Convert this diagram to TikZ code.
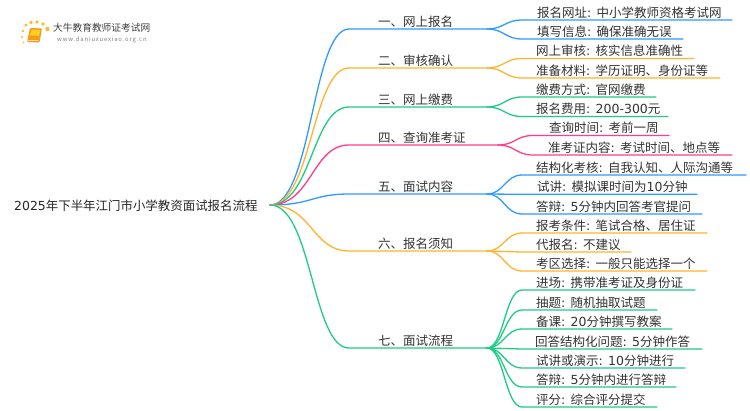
\documentclass[tikz,border=0pt]{standalone}
\usepackage{fontspec}
\setmainfont{Noto Sans CJK SC}
\newfontfamily\latfont{DejaVu Sans}
\newcommand{\lat}[1]{{\latfont #1}}
\definecolor{cblue}{HTML}{2E9BFF}
\definecolor{corange}{HTML}{FFB32E}
\definecolor{cgreen}{HTML}{1FCC85}
\definecolor{cpink}{HTML}{FF3D8B}
\definecolor{ctext}{HTML}{333333}
\definecolor{cbook}{HTML}{F59A1C}
\tikzset{
  x=1pt,y=-1pt,
  lbl/.style={anchor=base west,inner sep=0pt,font=\fontsize{12.5}{14}\selectfont,text=ctext},
  rootlbl/.style={anchor=base west,inner sep=0pt,font=\fontsize{12.45}{14}\selectfont,text=black!85},
  wire/.style={line width=1.3pt,line cap=round},
}
% branch: name, colour, y, fork x, text
\newcommand{\branch}[5]{%
  \coordinate (#1s) at (349,#3);
  \coordinate (#1e) at (#4,#3);
  \node[lbl] (#1t) at (378,#3-2.6) {#5};
  \draw[wire,#2] (rootout) .. controls ($(rootout)+(42,0)$) and ($(#1s)+(-37,0)$) .. (#1s) -- (#1e);
}
% leaf: name, parent, colour, y, start x, end x, text x, text
\newcommand{\leaf}[8]{%
  \coordinate (#1s) at (#5,#4);
  \coordinate (#1e) at (#6,#4);
  \node[lbl] (#1t) at (#7,#4-2.6) {#8};
  \draw[wire,#3] (#2e) .. controls ($(#2e)+(17,0)$) and ($(#1s)+(-17,0)$) .. (#1s) -- (#1e);
}
\usetikzlibrary{calc}
\begin{document}
\begin{tikzpicture}
\useasboundingbox (0,0) rectangle (750,410);
\fill[white] (0,0) rectangle (750,410);
% logo
\fill[corange!90!yellow] (23,31) circle (1.3) (26,25) circle (1.6) (31,22.5) circle (1.9) (37,22) circle (1.9) (43,24) circle (1.9) (47.5,29) circle (2.2) (22,37) circle (1.1) (23.5,42.5) circle (0.8);
\fill[cbook,rounded corners=1pt] (30,28) -- (42,28.5) -- (39.5,42.5) -- (27,42) -- cycle;
\fill[corange!60!yellow] (31.5,29.5) -- (40.5,30) -- (39,36) -- (30,35.5) -- cycle;
\draw[white,line width=0.5pt] (28,40.3) -- (38.6,40.7);
\node[anchor=base west,inner sep=0pt,font=\fontsize{9.7}{11}\selectfont,text=black!75] (logoa) at (53,31) {大牛教育教师证考试网};
\node[anchor=base west,inner sep=0pt,font=\fontsize{5.9}{7}\selectfont\addfontfeature{LetterSpace=14},text=black!50] (logob) at (57,41.5) {www.daniuxuexiao.org.cn};
% root
\node[rootlbl] (root) at (14,210.5) {\lat{2025}年下半年江门市小学教资面试报名流程};
\coordinate (rootout) at (270,205);
\branch{a}{cblue}{29}{487}{一、网上报名}
\branch{b}{corange}{68}{487}{二、审核确认}
\branch{c}{cgreen}{107}{487}{三、网上缴费}
\branch{d}{cpink}{145}{498}{四、查询准考证}
\branch{e}{cblue}{194}{487}{五、面试内容}
\branch{f}{corange}{251}{487}{六、报名须知}
\branch{g}{cgreen}{348}{487}{七、面试流程}
\leaf{a1}{a}{cblue}{20}{522}{732}{537}{报名网址\lat{: }中小学教师资格考试网}
\leaf{a2}{a}{cblue}{39}{522}{683}{537}{填写信息\lat{: }确保准确无误}
\leaf{b1}{b}{corange}{58.5}{522}{694}{536}{网上审核\lat{: }核实信息准确性}
\leaf{b2}{b}{corange}{78}{522}{720}{536}{准备材料\lat{: }学历证明、身份证等}
\leaf{c1}{c}{cgreen}{97}{522}{656}{536}{缴费方式\lat{: }官网缴费}
\leaf{c2}{c}{cgreen}{116.5}{522}{668}{536}{报名费用\lat{: 200-300}元}
\leaf{d1}{d}{cpink}{135.5}{533}{669}{549}{查询时间\lat{: }考前一周}
\leaf{d2}{d}{cpink}{155}{533}{732}{548}{准考证内容\lat{: }考试时间、地点等}
\leaf{e1}{e}{cblue}{175}{522}{746}{536}{结构化考核\lat{: }自我认知、人际沟通等}
\leaf{e2}{e}{cblue}{194.3}{522}{697}{537}{试讲\lat{: }模拟课时间为\lat{10}分钟}
\leaf{e3}{e}{cblue}{214}{522}{702}{536}{答辩\lat{: 5}分钟内回答考官提问}
\leaf{f1}{f}{corange}{233}{522}{707}{536}{报考条件\lat{: }笔试合格、居住证}
\leaf{f2}{f}{corange}{252}{522}{631}{536}{代报名\lat{: }不建议}
\leaf{f3}{f}{corange}{271}{522}{707}{536}{考区选择\lat{: }一般只能选择一个}
\leaf{g1}{g}{cgreen}{290}{522}{695}{536}{进场\lat{: }携带准考证及身份证}
\leaf{g2}{g}{cgreen}{310}{522}{657}{536}{抽题\lat{: }随机抽取试题}
\leaf{g3}{g}{cgreen}{329}{522}{672}{536}{备课\lat{: 20}分钟撰写教案}
\leaf{g4}{g}{cgreen}{349}{522}{702}{535}{回答结构化问题\lat{: 5}分钟作答}
\leaf{g5}{g}{cgreen}{368}{522}{685}{536}{试讲或演示\lat{: 10}分钟进行}
\leaf{g6}{g}{cgreen}{387}{522}{676}{536}{答辩\lat{: 5}分钟内进行答辩}
\leaf{g7}{g}{cgreen}{407}{522}{657}{536}{评分\lat{: }综合评分提交}
\end{tikzpicture}
\end{document}
